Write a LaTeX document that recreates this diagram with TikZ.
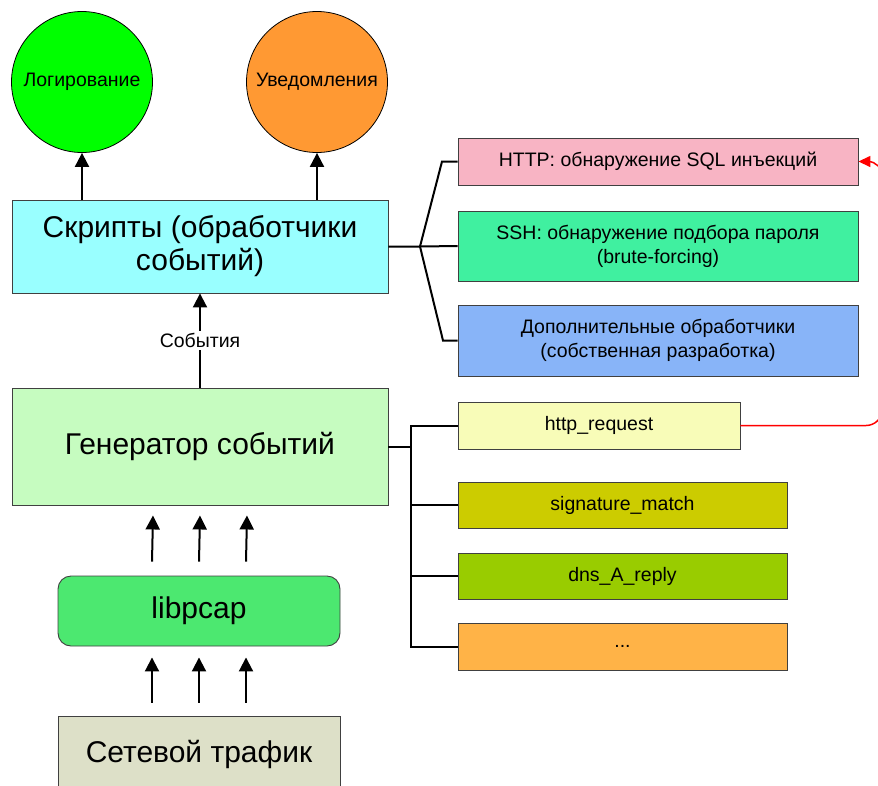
\documentclass[tikz,border=0pt]{standalone}
\usepackage{fontspec}
\setmainfont{Liberation Sans}
\usetikzlibrary{arrows.meta}

\definecolor{cScripts}{HTML}{99FFFF}
\definecolor{cGen}{HTML}{C6FCC0}
\definecolor{cPcap}{HTML}{4CE870}
\definecolor{cNet}{HTML}{DDE0C8}
\definecolor{cLog}{HTML}{00FF00}
\definecolor{cNotify}{HTML}{FF9933}
\definecolor{cHttp}{HTML}{F8B4C4}
\definecolor{cSsh}{HTML}{40F0A0}
\definecolor{cExtra}{HTML}{88B4F8}
\definecolor{cReq}{HTML}{F8FCB8}
\definecolor{cSig}{HTML}{CCCC00}
\definecolor{cDns}{HTML}{99CC00}
\definecolor{cDots}{HTML}{FFB347}
\definecolor{cEdge}{HTML}{404040}

\begin{document}
\begin{tikzpicture}[x=1pt,y=-1pt,
  box/.style={draw=cEdge, line width=0.9pt, rectangle, inner sep=2pt, align=center, text=black},
  bigbox/.style={box, font=\fontsize{30}{33}\selectfont},
  smallbox/.style={box, font=\fontsize{19.5}{24}\selectfont},
  bubble/.style={draw=black, line width=0.8pt, circle, minimum size=141pt, inner sep=0pt, font=\fontsize{19.5}{22}\selectfont},
  arr/.style={line width=2pt, -{Triangle[width=14pt,length=14pt]}},
  branch/.style={line width=2pt},
  feed/.style={draw=red, line width=1.5pt, -{Triangle[width=11pt,length=12pt]}}
]
\useasboundingbox (0,0) rectangle (878,785);
\clip (0,0) rectangle (878,785);

% outputs of the scripts
\node[bubble, fill=cLog] (log) at (82,82) {Логирование};
\node[bubble, fill=cNotify] (notify) at (317,82) {Уведомления};

% main processing stack
\node[bigbox, fill=cScripts, minimum width=376pt, minimum height=93pt] (scripts) at (200,246.5) {Скрипты (обработчики\\событий)};
\node[bigbox, fill=cGen, minimum width=376pt, minimum height=117pt] (gen) at (200,446.5) {Генератор событий};
\node[bigbox, fill=cPcap, rounded corners=13pt, minimum width=282pt, minimum height=70pt] (pcap) at (199,611) {libpcap};
\node[bigbox, fill=cNet, minimum width=282pt, minimum height=76pt] (net) at (199,754) {Сетевой трафик};

% script handlers
\node[smallbox, fill=cHttp, minimum width=400pt, minimum height=47pt] (http) at (658,161.5) {HTTP: обнаружение SQL инъекций};
\node[smallbox, fill=cSsh, minimum width=400pt, minimum height=70pt] (ssh) at (658,246) {SSH: обнаружение подбора пароля\\(brute-forcing)};
\node[smallbox, fill=cExtra, minimum width=400pt, minimum height=71pt] (extra) at (658,340.5) {Дополнительные обработчики\\(собственная разработка)};

% generated events
\node[smallbox, fill=cReq, minimum width=282pt, minimum height=47pt] (req) at (599,425.5) {http\_request};
\node[smallbox, fill=cSig, minimum width=329pt, minimum height=46pt] (sig) at (622.5,505) {signature\_match};
\node[smallbox, fill=cDns, minimum width=329pt, minimum height=46pt] (dns) at (622.5,576) {dns\_A\_reply};
\node[smallbox, fill=cDots, minimum width=329pt, minimum height=47pt] (dots) at (622.5,646.5) {...};

% arrows to the outputs
\draw[arr] (log.south |- scripts.north) -- (log.south);
\draw[arr] (notify.south |- scripts.north) -- (notify.south);

% events go up to the scripts
\draw[arr] (gen.north) -- (scripts.south)
  node[midway, fill=white, inner sep=2pt, font=\fontsize{19.5}{22}\selectfont] (evlabel) {События};

% packet flow
\foreach \dx in {-47,0,47} {
  \draw[arr] ([xshift=\dx pt, yshift=14pt]pcap.north) -- ([xshift=\dx pt, yshift=-10pt]gen.south);
  \draw[arr] ([xshift=\dx pt, yshift=13pt]net.north) -- ([xshift=\dx pt, yshift=-11pt]pcap.south);
}

% fan-out from the scripts
\coordinate (fan) at (420,246.5);
\coordinate (fanup) at (442,161.5);
\coordinate (fandown) at (443,340.5);
\draw[branch] (scripts.east) -- (fan) -- (ssh.west);
\draw[branch] (fan) -- (fanup) -- (http.west);
\draw[branch] (fan) -- (fandown) -- (extra.west);

% bus from the event generator
\coordinate (bus) at (411,446.5);
\draw[branch] (gen.east) -- (bus);
\draw[branch] (req.west) -- (req.west -| bus) -- (dots.west -| bus) -- (dots.west);
\draw[branch] (sig.west) -- (sig.west -| bus);
\draw[branch] (dns.west) -- (dns.west -| bus);

% http_request feeds the HTTP handler
\coordinate (rlow) at (866,425.5);
\coordinate (rlow2) at (882,410);
\coordinate (rtop2) at (882,176);
\coordinate (rtop) at (868,161.5);
\draw[feed] (req.east) -- (rlow) to[out=0,in=-90] (rlow2) -- (rtop2) to[out=90,in=0] (rtop) -- (http.east);
\end{tikzpicture}
\end{document}
